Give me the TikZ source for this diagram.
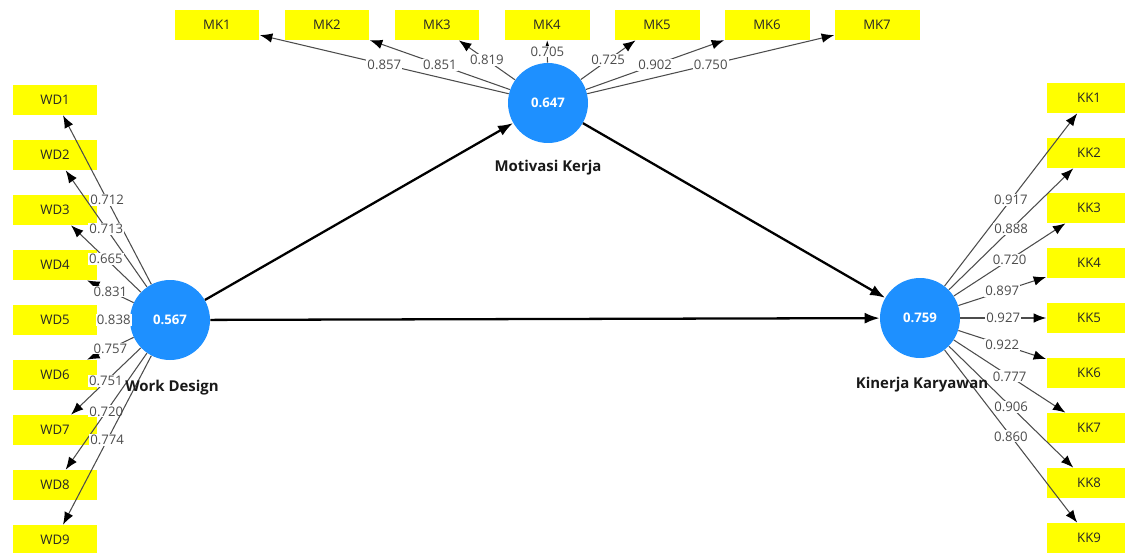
\documentclass[tikz,border=0pt]{standalone}
\usepackage{fontspec}
\setmainfont{Open Sans}
\usetikzlibrary{arrows.meta}
\definecolor{itemyellow}{RGB}{255,255,0}
\definecolor{latentblue}{RGB}{30,144,255}
\begin{document}
\begin{tikzpicture}[x=0.02cm, y=-0.02cm,
    indicator/.style={fill=itemyellow, minimum width=1.7cm, minimum height=0.6cm, inner sep=0pt, text=black!85, font=\fontsize{7.5}{8}\selectfont},
    construct/.style={circle, fill=latentblue, minimum size=1.6cm, inner sep=0pt, text=white, font=\bfseries\fontsize{7.5}{8}\selectfont},
    constructname/.style={text=black!90, font=\bfseries\fontsize{8.5}{9}\selectfont},
    loading/.style={draw=black!70, line width=0.6pt, -{Latex[length=2.5mm,width=1.9mm,color=black]}},
    loadval/.style={fill=white, inner sep=0.6pt, text=black!70, font=\fontsize{7.5}{8}\selectfont},
    structural/.style={draw=black, line width=1.3pt, -{Latex[length=3mm,width=2.2mm]}}
]
    \useasboundingbox (0,0) rectangle (1125,552);
    % Constructs
    \node[construct] (WD) at (170,320) {0.567};
    \node[construct] (MK) at (548,103) {0.647};
    \node[construct] (KK) at (920,318) {0.759};
    % Structural paths
    \draw[structural] (WD) -- (MK);
    \draw[structural] (MK) -- (KK);
    \draw[structural] (WD) -- (KK);
    % Indicator boxes
    \foreach \i in {1,...,9} {
        \node[indicator] (WD\i) at (55,{45+55*\i}) {WD\i};
        \node[indicator] (KK\i) at (1089,{43+55*\i}) {KK\i};
    }
    \foreach \i in {1,...,7}
        \node[indicator] (MK\i) at ({107+110*\i},25) {MK\i};
    % Outer loadings
    \foreach \i/\val in {1/0.712, 2/0.713, 3/0.665, 4/0.831, 5/0.838, 6/0.757, 7/0.751, 8/0.720, 9/0.774}
        \draw[loading] (WD) -- node[loadval] {\val} (WD\i);
    \foreach \i/\val in {1/0.857, 2/0.851, 3/0.819, 4/0.705, 5/0.725, 6/0.902, 7/0.750}
        \draw[loading] (MK) -- node[loadval] {\val} (MK\i);
    \foreach \i/\val in {1/0.917, 2/0.888, 3/0.720, 4/0.897, 5/0.927, 6/0.922, 7/0.777, 8/0.906, 9/0.860}
        \draw[loading] (KK) -- node[loadval] {\val} (KK\i);
    % Construct names
    \node[constructname] (WDname) at (172,388) {Work Design};
    \node[constructname] (MKname) at (548,168) {Motivasi Kerja};
    \node[constructname] (KKname) at (922,385) {Kinerja Karyawan};
\end{tikzpicture}
\end{document}
